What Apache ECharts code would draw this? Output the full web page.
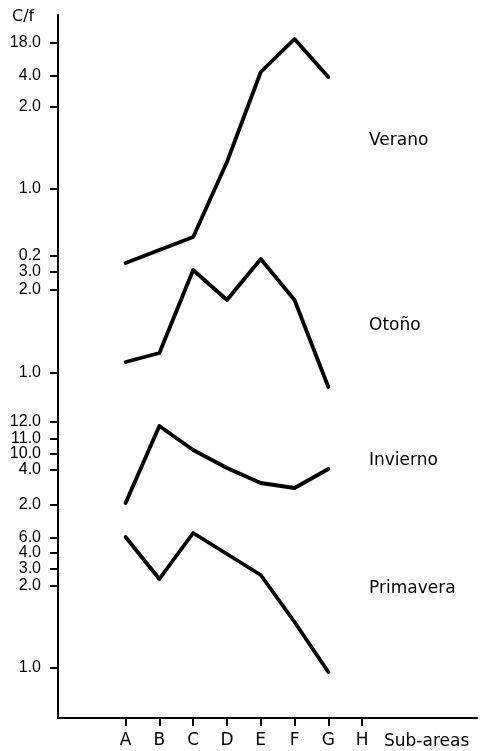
<!DOCTYPE html>
<html>
<head>
<meta charset="utf-8">
<style>
  html, body { margin: 0; padding: 0; background: #fff; }
  #chart { width: 482px; height: 751px; }
</style>
<script src="https://cdn.jsdelivr.net/npm/echarts@6/dist/echarts.min.js"></script>
</head>
<body>
<div id="chart"></div>
<script>
// sub-areas along the x axis (A..H), G is the last one with data
const subAreas = ['A', 'B', 'C', 'D', 'E', 'F', 'G', 'H'];

// the figure stacks four panels on one vertical axis; values are heights
// on that shared axis
const verano    = [455, 468, 481, 556, 646, 679, 641];
const otono     = [356, 365, 448, 418, 459, 418, 331];
const invierno  = [215, 292, 268, 250, 235, 230, 249];
const primavera = [181, 139, 185, 164, 143,  96,  46];

// tick marks on the shared axis and the C/f label printed at each one
const tickPos    = [675, 642, 611, 529, 462, 446, 428, 345, 296, 279, 264, 248, 213, 180, 165, 149, 132, 50];
const tickLabels = ['18.0', '4.0', '2.0', '1.0', '0.2', '3.0', '2.0', '1.0', '12.0', '11.0', '10.0', '4.0', '2.0', '6.0', '4.0', '3.0', '2.0', '1.0'];

const seasons = [
  { name: 'Verano', data: verano, top: 132 },
  { name: 'Otoño', data: otono, top: 317 },
  { name: 'Invierno', data: invierno, top: 452 },
  { name: 'Primavera', data: primavera, top: 580 }
];

(function(){
  'use strict';

  const chart = echarts.init(document.getElementById('chart'), null, { renderer: 'canvas' });
  const xIdx = subAreas.map((s, i)=>i);

  chart.setOption({
    animation: false,
    backgroundColor: '#fff',
    grid: { left: 58, right: 5, top: 15, bottom: 33, containLabel: false },
    xAxis: {
      type: 'value', min: -2, max: 10.4,
      splitLine: { show: false },
      axisLine: { show: true, onZero: false, lineStyle: { color: '#000', width: 2 } },
      axisTick: { show: true, customValues: xIdx, length: 8, lineStyle: { color: '#000', width: 2 } },
      axisLabel: {
        customValues: xIdx, margin: 14, color: '#000',
        fontFamily: 'DejaVu Sans', fontSize: 17,
        formatter: (v)=>subAreas[Math.round(v)] || ''
      }
    },
    yAxis: {
      type: 'value', min: 0, max: 703,
      splitLine: { show: false },
      axisLine: { show: true, onZero: false, lineStyle: { color: '#000', width: 2 } },
      axisTick: { show: true, customValues: tickPos, length: 8, lineStyle: { color: '#000', width: 2 } },
      axisLabel: {
        customValues: tickPos, margin: 17, color: '#000',
        fontFamily: 'Liberation Sans', fontSize: 16,
        formatter: (v)=>{
          const i = tickPos.indexOf(Math.round(v));
          return i === -1 ? '' : tickLabels[i];
        }
      }
    },
    series: seasons.map((s)=>({
      name: s.name,
      type: 'line',
      data: s.data.map((v, i)=>[i, v]),
      showSymbol: false,
      silent: true,
      lineStyle: { color: '#000', width: 3.8, join: 'round', cap: 'round' }
    })),
    graphic: [
      { type: 'text', left: 12, top: 9, style: { text: 'C/f', font: '16px "DejaVu Sans"', fill: '#000' } },
      { type: 'text', left: 384, top: 733, style: { text: 'Sub-areas', font: '17px "DejaVu Sans"', fill: '#000' } }
    ].concat(seasons.map((s)=>({
      type: 'text', left: 369, top: s.top,
      style: { text: s.name, font: '17px "DejaVu Sans"', fill: '#000' }
    })))
  });
})();
</script>
</body>
</html>
